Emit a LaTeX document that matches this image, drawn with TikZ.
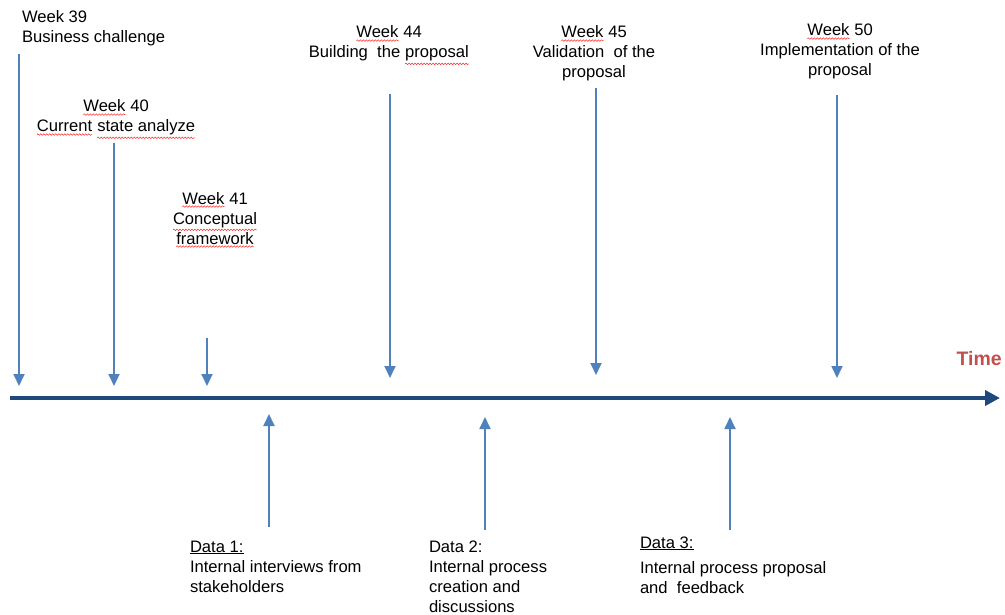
\documentclass[tikz,border=0pt]{standalone}
\usepackage{fontspec}
\setmainfont{Liberation Sans}
\usetikzlibrary{arrows.meta,decorations.pathmorphing}
\definecolor{axisblue}{RGB}{31,73,125}
\definecolor{arrblue}{RGB}{79,129,189}
\definecolor{timered}{RGB}{192,80,77}
\newcommand\sqw[1]{\tikz[baseline=(w.base)]{\node[inner sep=0pt,outer sep=0pt](w){#1};\draw[red!85,line width=0.5pt,decorate,decoration={snake,amplitude=0.8pt,segment length=3pt}] ([yshift=-2.4pt]w.south west)--([yshift=-2.4pt]w.south east);}}
\begin{document}
\begin{tikzpicture}[x=1pt,y=-1pt,
  lbl/.style={font=\fontsize{16.6}{20}\selectfont,inner sep=0pt,outer sep=0pt,align=center,anchor=base},
  dlbl/.style={font=\fontsize{16.6}{20}\selectfont,inner sep=0pt,outer sep=0pt,align=left,anchor=base west},
  ev/.style={draw=arrblue,line width=1.8pt,-{Triangle[width=11pt,length=12pt]}},
  axis/.style={draw=axisblue,line width=4.6pt,-{Triangle[width=15pt,length=15pt]}}]
\useasboundingbox (0,0) rectangle (1005,615);
% timeline
\coordinate (t0) at (10,398);
\coordinate (t1) at (1000,398);
\draw[axis] (t0) -- (t1);
\node[font=\fontsize{19.5}{22}\selectfont\bfseries,text=timered,inner sep=0pt,anchor=base east] (time) at (1002,365) {Time};
% top labels (anchored at the baseline of their last line)
\node[dlbl] (w39) at (22,43) {Week 39\\Business challenge};
\node[lbl] (w40) at (116,132) {\sqw{Week} 40\\\sqw{Current} \sqw{state analyze}};
\node[lbl] (w41) at (215,244) {\sqw{Week} 41\\\sqw{Conceptual}\\\sqw{framework}};
\node[lbl] (w44) at (389,58) {\sqw{Week} 44\\Building\ \ the \sqw{proposal}};
\node[lbl] (w45) at (594,78) {\sqw{Week} 45\\Validation\ \ of the\\proposal};
\node[lbl] (w50) at (840,76) {\sqw{Week} 50\\Implementation of the\\proposal};
% down arrows
\coordinate (a39s) at (19,54);  \coordinate (a39e) at (19,386);
\coordinate (a40s) at (114,143); \coordinate (a40e) at (114,386);
\coordinate (a41s) at (207,338); \coordinate (a41e) at (207,386);
\coordinate (a44s) at (390,94);  \coordinate (a44e) at (390,378);
\coordinate (a45s) at (596,88);  \coordinate (a45e) at (596,375);
\coordinate (a50s) at (837,95);  \coordinate (a50e) at (837,378);
\foreach \a in {39,40,41,44,45,50} \draw[ev] (a\a s) -- (a\a e);
% bottom labels (anchored at the baseline of their last line)
\node[dlbl] (d1) at (190,592) {\underline{Data 1:}\\Internal interviews from\\stakeholders};
\node[dlbl] (d2) at (429,612) {Data 2:\\Internal process\\creation and\\discussions};
\node[dlbl] (d3) at (640,593) {\underline{Data 3:}\\[5pt]Internal process proposal\\and\ \ feedback};
% up arrows
\coordinate (b1s) at (269,527); \coordinate (b1e) at (269,414);
\coordinate (b2s) at (485,530); \coordinate (b2e) at (485,417);
\coordinate (b3s) at (730,530); \coordinate (b3e) at (730,417);
\foreach \b in {1,2,3} \draw[ev] (b\b s) -- (b\b e);
\end{tikzpicture}
\end{document}
